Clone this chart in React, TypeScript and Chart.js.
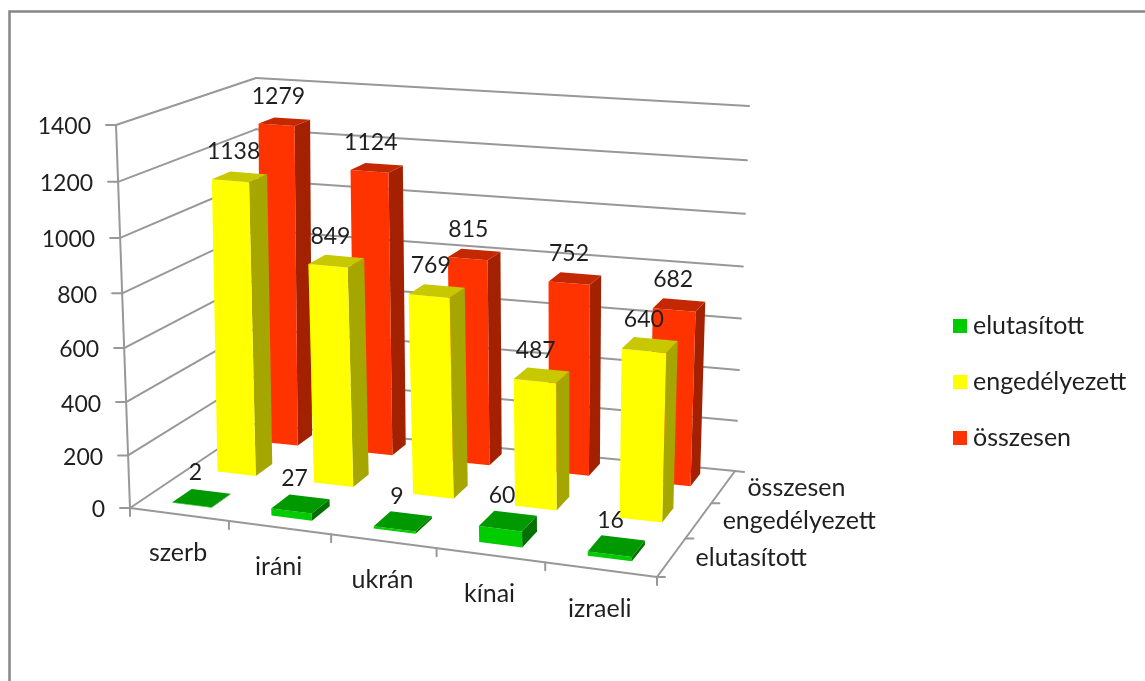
import React, { useEffect, useRef } from "react";
import { Chart, registerables } from "chart.js";

Chart.register(...registerables);

const categories = ["szerb", "iráni", "ukrán", "kínai", "izraeli"];
const elutasitott = [2, 27, 9, 60, 16];
const engedelyezett = [1138, 849, 769, 487, 640];
const osszesen = [1279, 1124, 815, 752, 682];
const seriesNames = ["elutasított", "engedélyezett", "összesen"];
const yMax = 1400;
const yStep = 200;

const FONT = "Lato";
const GRID = "#989898";
const TEXT = "#1f1f1f";
const LABEL_FONT = `25px ${FONT}`;
const NUMBER_FONT = `23px ${FONT}`;

type Pt = [number, number];

// Unit square (category position, depth position) to a picture quadrilateral
function homography(q: Pt[]) {
  const [[x0, y0], [x1, y1], [x2, y2], [x3, y3]] = q;
  const dx1 = x1 - x2, dx2 = x3 - x2, sx = x0 - x1 + x2 - x3;
  const dy1 = y1 - y2, dy2 = y3 - y2, sy = y0 - y1 + y2 - y3;
  const den = dx1 * dy2 - dx2 * dy1;
  const g = (sx * dy2 - dx2 * sy) / den;
  const h = (dx1 * sy - sx * dy1) / den;
  const a = x1 - x0 + g * x1, b = x3 - x0 + h * x3;
  const d = y1 - y0 + g * y1, e = y3 - y0 + h * y3;
  return (u: number, w: number): Pt => {
    const k = g * u + h * w + 1;
    return [(a * u + b * w + x0) / k, (d * u + e * w + y0) / k];
  };
}

const floorAt = homography([[130, 508], [657, 577], [735, 471], [255, 424]]);
const ceilAt = homography([[116, 125], [668, 173], [749, 106], [256, 78]]);

function project(u0: number, w: number, f0: number): Pt {
  const u = u0 + 0.09 * u0 * (1 - u0);
  const f = f0 - 0.045 * f0 * (1 - f0);
  const a = floorAt(u, w);
  const b = ceilAt(u, w);
  return [a[0] + (b[0] - a[0]) * f, a[1] + (b[1] - a[1]) * f];
}

const HALF_U = 0.04;
const HALF_W = 0.075;
const BAR_FORESHORTEN = 0.988;

function poly(ctx: CanvasRenderingContext2D, pts: Pt[], fill: string) {
  ctx.beginPath();
  pts.forEach((p, i) => (i ? ctx.lineTo(p[0], p[1]) : ctx.moveTo(p[0], p[1])));
  ctx.closePath();
  ctx.fillStyle = fill;
  ctx.fill();
}

function line(ctx: CanvasRenderingContext2D, a: Pt, b: Pt) {
  ctx.beginPath();
  ctx.moveTo(a[0], a[1]);
  ctx.lineTo(b[0], b[1]);
  ctx.stroke();
}

function heightFraction(chart: any, v: number) {
  const y = chart.scales.y;
  return (y.getPixelForValue(0) - y.getPixelForValue(v)) / (y.getPixelForValue(0) - y.getPixelForValue(yMax));
}

function uOf(chart: any, i: number) {
  const x = chart.scales.x;
  return (x.getPixelForValue(i) - x.left) / (x.right - x.left);
}

function wOf(chart: any, s: number) {
  return (s + 0.5) / chart.data.datasets.length;
}

function wBar(chart: any, s: number) {
  const w = wOf(chart, s);
  return w + 0.055 * w * w;
}

const plugin3d = {
  id: "bars3d",
  beforeDraw(chart: any) {
    const ctx: CanvasRenderingContext2D = chart.ctx;
    ctx.save();
    ctx.fillStyle = "#ffffff";
    ctx.fillRect(0, 0, chart.width, chart.height);
    ctx.strokeStyle = "#868686";
    ctx.lineWidth = 2.5;
    ctx.beginPath();
    ctx.moveTo(9.5, chart.height + 2);
    ctx.lineTo(9.5, 11.5);
    ctx.lineTo(chart.width + 2, 11.5);
    ctx.stroke();
    ctx.restore();
  },
  beforeDatasetsDraw(chart: any) {
    const ctx: CanvasRenderingContext2D = chart.ctx;
    ctx.save();
    ctx.strokeStyle = GRID;
    ctx.lineWidth = 2;
    ctx.lineCap = "round";
    ctx.font = NUMBER_FONT;
    ctx.fillStyle = TEXT;
    // value axis, gridlines on the two walls
    ctx.textAlign = "right";
    ctx.textBaseline = "middle";
    chart.scales.y.ticks.forEach((t: any) => {
      const f = heightFraction(chart, t.value);
      const fl = project(0, 0, f), bl = project(0, 1, f), br = project(1, 1, f);
      line(ctx, [fl[0] - 10, fl[1]], fl);
      line(ctx, fl, bl);
      line(ctx, bl, br);
      ctx.fillText(String(t.value), fl[0] - 25, fl[1] + 2);
    });
    line(ctx, project(0, 0, 0), project(0, 0, 1));
    // floor edges and ticks
    const fr = project(1, 0, 0), br0 = project(1, 1, 0);
    line(ctx, project(0, 0, 0), fr);
    line(ctx, fr, br0);
    line(ctx, br0, [br0[0] + 9, br0[1] + 1]);
    const n = categories.length;
    for (let i = 0; i <= n; i++) {
      const p = project(i / n, 0, 0);
      line(ctx, p, [p[0], p[1] + 8]);
    }
    line(ctx, fr, [fr[0] + 8, fr[1]]);
    const ns = seriesNames.length;
    for (let s = 1; s < ns; s++) {
      const p = project(1, s / ns, 0);
      line(ctx, p, [p[0] + 8, p[1]]);
    }
    ctx.font = LABEL_FONT;
    // category labels
    ctx.textAlign = "center";
    chart.data.labels.forEach((lab: string, i: number) => {
      const p = project(uOf(chart, i), 0, 0);
      ctx.fillText(lab, p[0] - 1, p[1] + 39);
    });
    // depth labels
    ctx.textAlign = "left";
    chart.data.datasets.forEach((ds: any, s: number) => {
      const p = project(1, wOf(chart, s), 0);
      ctx.fillText(ds.label, p[0] + 24, p[1] + 1);
    });
    ctx.restore();
  },
  beforeDatasetDraw(chart: any, args: any) {
    const ctx: CanvasRenderingContext2D = chart.ctx;
    const ds = chart.data.datasets[args.index];
    const wc = wBar(chart, args.index);
    const hw = HALF_W * (1 - 0.15 * wc);
    ds.data.forEach((v: number, i: number) => {
      const uc = uOf(chart, i);
      const f = heightFraction(chart, v) * BAR_FORESHORTEN;
      const u0 = uc - HALF_U, u1 = uc + HALF_U, w0 = wc - hw, w1 = wc + hw;
      poly(ctx, [project(u1, w0, 0), project(u1, w1, 0), project(u1, w1, f), project(u1, w0, f)], ds.sideColor);
      poly(ctx, [project(u0, w0, 0), project(u1, w0, 0), project(u1, w0, f), project(u0, w0, f)], ds.backgroundColor);
      poly(ctx, [project(u0, w0, f), project(u1, w0, f), project(u1, w1, f), project(u0, w1, f)], ds.topColor);
    });
    return false;
  },
  afterDatasetsDraw(chart: any) {
    const ctx: CanvasRenderingContext2D = chart.ctx;
    ctx.save();
    ctx.font = NUMBER_FONT;
    ctx.fillStyle = TEXT;
    ctx.textAlign = "center";
    ctx.textBaseline = "middle";
    chart.data.datasets.forEach((ds: any, s: number) => {
      ds.data.forEach((v: number, i: number) => {
        const p = project(uOf(chart, i), wBar(chart, s), heightFraction(chart, v) * BAR_FORESHORTEN);
        ctx.fillText(String(v), p[0] - 6, p[1] - 25);
      });
    });
    // legend
    ctx.font = LABEL_FONT;
    ctx.textAlign = "left";
    chart.data.datasets.forEach((ds: any, s: number) => {
      const cy = 326 + s * 56;
      ctx.fillStyle = ds.backgroundColor;
      ctx.fillRect(953, cy - 7, 14, 14);
      ctx.fillStyle = TEXT;
      ctx.fillText(ds.label, 973, cy);
    });
    ctx.restore();
  },
};

export default function App() {
  const ref = useRef<HTMLCanvasElement>(null);
  useEffect(() => {
    const chart = new Chart(ref.current as HTMLCanvasElement, {
      type: "bar",
      data: {
        labels: categories,
        datasets: [
          { label: seriesNames[0], data: elutasitott, backgroundColor: "#00CC00", topColor: "#009900", sideColor: "#007000" },
          { label: seriesNames[1], data: engedelyezett, backgroundColor: "#FFFF00", topColor: "#C8C800", sideColor: "#A6A600" },
          { label: seriesNames[2], data: osszesen, backgroundColor: "#FF3300", topColor: "#C42800", sideColor: "#A32100" },
        ] as any,
      },
      options: {
        responsive: false,
        animation: false,
        layout: { padding: { top: 125, bottom: 173, left: 130, right: 400 } },
        scales: {
          x: { display: false, grid: { display: false } },
          y: { display: false, min: 0, max: yMax, ticks: { stepSize: yStep }, grid: { display: false } },
        },
        plugins: {
          tooltip: { enabled: false },
          legend: { display: false },
        },
      },
      plugins: [plugin3d],
    });
    return () => chart.destroy();
  }, []);
  return (
    <div style={{ position: "absolute", left: 0, top: 0, width: 1145, height: 681 }}>
      <canvas ref={ref} width={1145} height={681} style={{ display: "block" }} />
    </div>
  );
}
